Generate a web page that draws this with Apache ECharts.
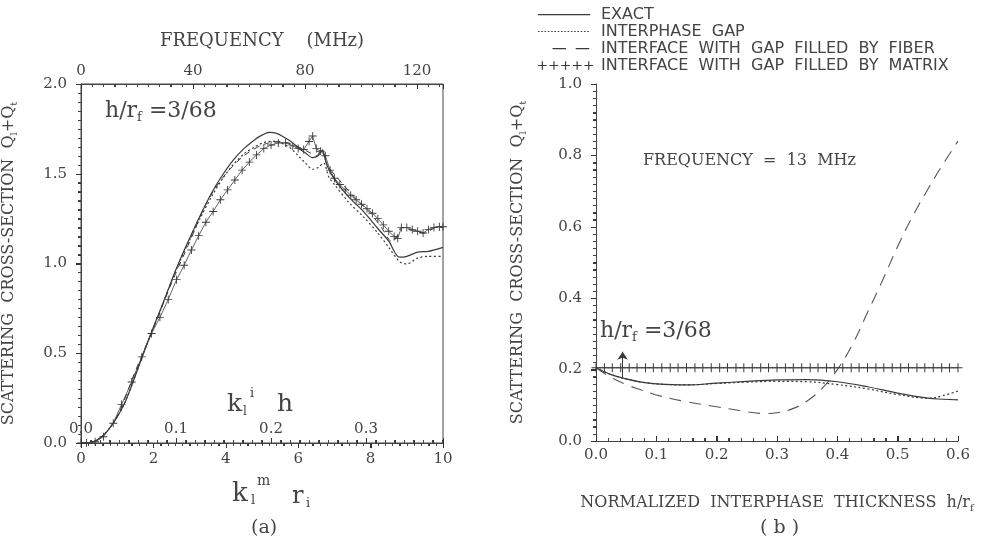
<!DOCTYPE html>
<html>
<head>
<meta charset="utf-8">
<script src="https://cdn.jsdelivr.net/npm/echarts@6/dist/echarts.min.js"></script>
<style>
  html, body { margin: 0; padding: 0; background: #fff; }
  #main { width: 991px; height: 548px; }
</style>
</head>
<body>
<div id="main"></div>
<script>
// ---- panel (a): cross-section vs k_l^m r_i ----
const kExactA = [0, 0.2, 0.4, 0.6, 0.8, 1.0, 1.2, 1.4, 1.6, 1.8, 2.0, 2.2, 2.4, 2.6, 2.8, 3.0, 3.3, 3.6, 3.9, 4.2, 4.5, 4.8, 5.0, 5.2, 5.4, 5.6, 5.8, 6.0, 6.2, 6.4, 6.55, 6.65, 6.8, 7.0, 7.4, 7.8, 8.2, 8.5, 8.8, 9.0, 9.3, 9.6, 10.0]
const exactA = [0, 0.001, 0.012, 0.04, 0.085, 0.145, 0.22, 0.32, 0.43, 0.54, 0.645, 0.745, 0.85, 0.955, 1.05, 1.14, 1.27, 1.39, 1.49, 1.575, 1.64, 1.69, 1.715, 1.73, 1.725, 1.705, 1.68, 1.645, 1.615, 1.59, 1.60, 1.63, 1.545, 1.47, 1.37, 1.29, 1.195, 1.125, 1.035, 1.04, 1.063, 1.068, 1.09]

const kGapA = [0, 0.2, 0.4, 0.6, 0.8, 1.0, 1.2, 1.4, 1.6, 1.8, 2.0, 2.2, 2.4, 2.6, 2.8, 3.0, 3.3, 3.6, 3.9, 4.2, 4.5, 4.8, 5.0, 5.2, 5.4, 5.6, 5.8, 6.0, 6.2, 6.4, 6.55, 6.7, 6.85, 7.0, 7.4, 7.8, 8.2, 8.5, 8.8, 9.0, 9.3, 9.6, 10.0]
const gapA = [0, 0.001, 0.012, 0.04, 0.085, 0.145, 0.22, 0.32, 0.43, 0.54, 0.645, 0.745, 0.85, 0.95, 1.045, 1.13, 1.255, 1.37, 1.47, 1.55, 1.61, 1.65, 1.67, 1.68, 1.68, 1.665, 1.64, 1.60, 1.56, 1.525, 1.535, 1.56, 1.48, 1.44, 1.34, 1.26, 1.17, 1.09, 1.01, 0.998, 1.03, 1.04, 1.04]

const kFiberA = [0, 0.5, 1.0, 1.5, 2.0, 2.5, 3.0, 3.5, 4.0, 4.5, 5.0, 5.5, 6.0, 6.3, 6.5, 6.65, 6.8, 7.2, 7.6, 8.0, 8.3, 8.6, 8.75, 8.85, 9.2, 9.5, 9.8, 10.0]
const fiberA = [0, 0.02, 0.15, 0.4, 0.64, 0.89, 1.12, 1.35, 1.5, 1.6, 1.66, 1.68, 1.65, 1.62, 1.6, 1.64, 1.55, 1.45, 1.36, 1.28, 1.2, 1.12, 1.16, 1.2, 1.18, 1.17, 1.2, 1.2]

const kMatrixA = [0, 0.15, 0.39, 0.62, 0.89, 1.12, 1.4, 1.68, 1.95, 2.18, 2.41, 2.64, 2.85, 3.05, 3.25, 3.45, 3.65, 3.85, 4.05, 4.25, 4.45, 4.65, 4.85, 5.05, 5.25, 5.45, 5.65, 5.85, 6.0, 6.15, 6.3, 6.4, 6.5, 6.62, 6.75, 6.88, 7.0, 7.15, 7.3, 7.45, 7.6, 7.75, 7.9, 8.05, 8.2, 8.35, 8.5, 8.65, 8.75, 8.85, 9.0, 9.15, 9.3, 9.45, 9.6, 9.75, 9.9, 10.0]
const matrixA = [0, 0, 0.007, 0.035, 0.11, 0.215, 0.34, 0.48, 0.61, 0.7, 0.8, 0.91, 0.99, 1.075, 1.155, 1.23, 1.29, 1.355, 1.41, 1.465, 1.52, 1.565, 1.605, 1.64, 1.66, 1.672, 1.672, 1.655, 1.64, 1.635, 1.68, 1.71, 1.64, 1.625, 1.6, 1.52, 1.475, 1.44, 1.41, 1.38, 1.355, 1.33, 1.305, 1.28, 1.25, 1.215, 1.18, 1.15, 1.14, 1.2, 1.2, 1.19, 1.18, 1.17, 1.19, 1.2, 1.205, 1.205]

// axis ranges of panel (a): frequency and k_l^i h at k_l^m r_i = 10
const kMaxA = 10
const freqMaxA = 129.3
const khMaxA = 0.381

// ---- panel (b): cross-section vs h/r_f at 13 MHz ----
const hB = [0, 0.025, 0.05, 0.075, 0.1, 0.15, 0.2, 0.25, 0.3, 0.35, 0.4, 0.45, 0.5, 0.55, 0.575, 0.6]
const exactB = [0.205, 0.186, 0.174, 0.165, 0.16, 0.157, 0.162, 0.167, 0.171, 0.172, 0.166, 0.152, 0.134, 0.12, 0.117, 0.115]
const gapB = [0.205, 0.186, 0.174, 0.165, 0.16, 0.157, 0.161, 0.165, 0.167, 0.166, 0.158, 0.146, 0.13, 0.12, 0.127, 0.14]

const hFiberB = [0, 0.025, 0.05, 0.075, 0.1, 0.15, 0.2, 0.25, 0.28, 0.3, 0.325, 0.35, 0.375, 0.4, 0.425, 0.45, 0.475, 0.5, 0.525, 0.55, 0.575, 0.6]
const fiberB = [0.205, 0.178, 0.158, 0.143, 0.129, 0.11, 0.096, 0.082, 0.077, 0.079, 0.09, 0.112, 0.148, 0.2, 0.27, 0.36, 0.45, 0.545, 0.63, 0.705, 0.775, 0.84]

const hMatrixB = [0, 0.014, 0.027, 0.041, 0.055, 0.068, 0.082, 0.095, 0.109, 0.123, 0.136, 0.150, 0.164, 0.177, 0.191, 0.205, 0.218, 0.232, 0.245, 0.259, 0.273, 0.286, 0.300, 0.314, 0.327, 0.341, 0.355, 0.368, 0.382, 0.395, 0.409, 0.423, 0.436, 0.450, 0.464, 0.477, 0.491, 0.505, 0.518, 0.532, 0.545, 0.559, 0.573, 0.586, 0.600]
const matrixB = [0.205, 0.205, 0.205, 0.205, 0.205, 0.205, 0.205, 0.205, 0.205, 0.205, 0.205, 0.205, 0.205, 0.205, 0.205, 0.205, 0.205, 0.205, 0.205, 0.205, 0.205, 0.205, 0.205, 0.205, 0.205, 0.205, 0.205, 0.205, 0.205, 0.205, 0.205, 0.205, 0.205, 0.205, 0.205, 0.205, 0.205, 0.205, 0.205, 0.205, 0.205, 0.205, 0.205, 0.205, 0.205]

// arrow marking h/r_f = 3/68
const arrowH = 3 / 68
const arrowFrom = 0.176
const arrowTo = 0.25

const names = ['EXACT', 'INTERPHASE  GAP', 'INTERFACE  WITH  GAP  FILLED  BY  FIBER', 'INTERFACE  WITH  GAP  FILLED  BY  MATRIX']

const ink = '#3a3a3a'
const txt = '#444'
const serif = 'DejaVu Serif'

function pairs(xs, ys) {
  return xs.map((x, i) => [x, ys[i]])
}

// legend icons, drawn in a 60x10 box (tiny corner squares pin the box size)
const box = 'M0,0h0.01v0.01h-0.01z M60,9.99h0.01v0.01h-0.01z '
function dots() {
  let p = box
  for (let x = 0; x < 54; x += 3.4) p += 'M' + x + ',4.4h1.6v1.2h-1.6z '
  return 'path://' + p
}
function crosses() {
  let p = box
  for (let c of [4.5, 16.5, 28.5, 40.5, 52.5]) {
    p += 'M' + (c - 0.6) + ',0.5h1.2v9h-1.2z M' + (c - 4.5) + ',4.4h9v1.2h-9z '
  }
  return 'path://' + p
}
const plusSymbol = 'path://M4,0h1v9h-1z M0,4h9v1h-9z'

const chart = echarts.init(document.getElementById('main'))

// fresh style objects for every axis
function label(extra) {
  return Object.assign({ color: txt, fontFamily: serif, fontSize: 15 }, extra)
}
function line() {
  return { show: true, lineStyle: { color: '#444', width: 1 } }
}
function ticks(inside, len) {
  return { show: true, inside: inside, length: len, lineStyle: { color: '#333', width: 1 } }
}
function minor(n) {
  return { show: true, splitNumber: n, length: 3, lineStyle: { color: '#444', width: 1 } }
}
function subRich() {
  return {
    t: { fontFamily: serif, fontSize: 16, color: txt },
    s: { fontSize: 10, fontFamily: serif, color: txt, padding: [10, 0, 0, 0] }
  }
}

const texts = [
  // h/r_f = 3/68 labels
  { type: 'text', left: 105, top: 100, style: { text: '{a|h/r}{s|f}{a| =3/68}', rich: { a: { fontFamily: serif, fontSize: 22, fill: txt }, s: { fontFamily: serif, fontSize: 13, fill: txt, padding: [14, 0, 0, 0] } } } },
  { type: 'text', left: 600, top: 320, style: { text: '{a|h/r}{s|f}{a| =3/68}', rich: { a: { fontFamily: serif, fontSize: 22, fill: txt }, s: { fontFamily: serif, fontSize: 13, fill: txt, padding: [14, 0, 0, 0] } } } },
  { type: 'text', left: 643, top: 153, style: { text: 'FREQUENCY  =  13  MHz', fontFamily: serif, fontSize: 16, fill: txt } },
  // k_l^i h (inner axis of panel a)
  { type: 'text', left: 227, top: 392, style: { text: 'k', fontFamily: serif, fontSize: 25, fill: txt } },
  { type: 'text', left: 243, top: 406, style: { text: 'l', fontFamily: serif, fontSize: 12, fill: txt } },
  { type: 'text', left: 250, top: 387, style: { text: 'i', fontFamily: serif, fontSize: 13, fill: txt } },
  { type: 'text', left: 277, top: 392, style: { text: 'h', fontFamily: serif, fontSize: 25, fill: txt } },
  // k_l^m r_i (bottom axis of panel a)
  { type: 'text', left: 232, top: 481, style: { text: 'k', fontFamily: serif, fontSize: 26, fill: txt } },
  { type: 'text', left: 251, top: 494, style: { text: 'l', fontFamily: serif, fontSize: 13, fill: txt } },
  { type: 'text', left: 257, top: 474, style: { text: 'm', fontFamily: serif, fontSize: 14, fill: txt } },
  { type: 'text', left: 292, top: 485, style: { text: 'r', fontFamily: serif, fontSize: 24, fill: txt } },
  { type: 'text', left: 306, top: 497, style: { text: 'i', fontFamily: serif, fontSize: 13, fill: txt } },
  // panel captions
  { type: 'text', left: 251, top: 519, style: { text: '(a)', fontFamily: serif, fontSize: 19, fill: txt } },
  { type: 'text', left: 760, top: 519, style: { text: '( b )', fontFamily: serif, fontSize: 19, fill: txt } }
]

chart.setOption({
  animation: false,
  legend: {
    orient: 'vertical',
    left: 533,
    top: 1,
    itemWidth: 58,
    itemHeight: 10,
    itemGap: 0,
    selectedMode: false,
    textStyle: { fontFamily: 'DejaVu Sans', fontSize: 16, color: txt, lineHeight: 17 },
    data: [
      { name: names[0], icon: 'path://' + box + 'M0,4.4h54v1.3h-54z' },
      { name: names[1], icon: dots() },
      { name: names[2], icon: 'path://' + box + 'M15,4.4h14v1.3h-14z M39,4.4h14v1.3h-14z' },
      { name: names[3], icon: crosses() }
    ]
  },
  grid: [
    { left: 81, top: 84, width: 362, height: 359, show: true, borderColor: '#444', borderWidth: 1 },
    { left: 596, top: 84, width: 362, height: 357 }
  ],
  xAxis: [
    {
      gridIndex: 0, type: 'value', position: 'bottom', min: 0, max: kMaxA, interval: 2,
      axisLine: line(), splitLine: { show: false },
      axisTick: ticks(false, 5), minorTick: minor(10),
      axisLabel: label({ margin: 9 })
    },
    {
      gridIndex: 0, type: 'value', position: 'top', min: 0, max: freqMaxA, interval: 40,
      axisLine: line(), splitLine: { show: false },
      axisTick: ticks(true, 5), minorTick: minor(10),
      axisLabel: label({ margin: 5, formatter: v => (v % 40 === 0 ? String(v) : '') }),
      name: 'FREQUENCY    (MHz)', nameLocation: 'middle', nameGap: 34,
      nameTextStyle: { fontFamily: serif, fontSize: 18, color: txt }
    },
    {
      gridIndex: 0, type: 'value', position: 'bottom', min: 0, max: khMaxA, interval: 0.1,
      axisLine: { show: false }, splitLine: { show: false },
      axisTick: ticks(true, 5), minorTick: minor(10),
      axisLabel: label({ inside: true, margin: 6, formatter: v => (Math.abs(v * 10 - Math.round(v * 10)) < 1e-6 ? v.toFixed(1) : '') })
    },
    {
      gridIndex: 1, type: 'value', min: 0, max: 0.6, interval: 0.1,
      axisLine: line(), splitLine: { show: false },
      axisTick: ticks(true, 5), minorTick: minor(5),
      axisLabel: label({ margin: 7, formatter: v => v.toFixed(1) }),
      name: '{t|NORMALIZED  INTERPHASE  THICKNESS  h/r}{s|f}', nameLocation: 'middle', nameGap: 52,
      nameTextStyle: { rich: subRich() }
    }
  ],
  yAxis: [
    {
      gridIndex: 0, type: 'value', min: 0, max: 2, interval: 0.5,
      axisLine: line(), splitLine: { show: false },
      axisTick: ticks(false, 5), minorTick: minor(10),
      axisLabel: label({ margin: 14, formatter: v => v.toFixed(1) }),
      name: '{t|SCATTERING  CROSS-SECTION  Q}{s|l}{t|+Q}{s|t}', nameLocation: 'middle', nameGap: 62,
      nameTextStyle: { rich: subRich() }
    },
    {
      gridIndex: 1, type: 'value', min: 0, max: 1, interval: 0.2,
      axisLine: line(), splitLine: { show: false },
      axisTick: ticks(false, 5), minorTick: minor(10),
      axisLabel: label({ margin: 14, formatter: v => v.toFixed(1) }),
      name: '{t|SCATTERING  CROSS-SECTION  Q}{s|l}{t|+Q}{s|t}', nameLocation: 'middle', nameGap: 68,
      nameTextStyle: { rich: subRich() }
    }
  ],
  series: [
    { name: names[0], type: 'line', xAxisIndex: 0, yAxisIndex: 0, data: pairs(kExactA, exactA), smooth: 0.3, showSymbol: false, color: ink, lineStyle: { width: 1.2 } },
    { name: names[1], type: 'line', xAxisIndex: 0, yAxisIndex: 0, data: pairs(kGapA, gapA), smooth: 0.3, showSymbol: false, color: ink, lineStyle: { width: 1.2, type: [2, 2.5] } },
    { name: names[2], type: 'line', xAxisIndex: 0, yAxisIndex: 0, data: pairs(kFiberA, fiberA), smooth: 0.3, showSymbol: false, color: ink, lineStyle: { width: 1, type: [6, 5] } },
    { name: names[3], type: 'line', xAxisIndex: 0, yAxisIndex: 0, data: pairs(kMatrixA, matrixA), symbol: plusSymbol, symbolSize: 8, color: ink, lineStyle: { width: 0.8 } },

    { name: names[0], type: 'line', xAxisIndex: 3, yAxisIndex: 1, data: pairs(hB, exactB), smooth: 0.4, showSymbol: false, color: ink, lineStyle: { width: 1.2 } },
    { name: names[1], type: 'line', xAxisIndex: 3, yAxisIndex: 1, data: pairs(hB, gapB), smooth: 0.4, showSymbol: false, color: ink, lineStyle: { width: 1.2, type: [2, 2.5] } },
    { name: names[2], type: 'line', xAxisIndex: 3, yAxisIndex: 1, data: pairs(hFiberB, fiberB), smooth: 0.4, showSymbol: false, color: '#555', lineStyle: { width: 1.1, type: [12, 8] } },
    {
      name: names[3], type: 'line', xAxisIndex: 3, yAxisIndex: 1, data: pairs(hMatrixB, matrixB), symbol: plusSymbol, symbolSize: 9, color: ink, lineStyle: { width: 0.8 },
      markLine: {
        silent: true, symbol: ['none', 'arrow'], symbolSize: 8,
        label: { show: false }, lineStyle: { color: ink, width: 1, type: 'solid' },
        itemStyle: { color: ink },
        data: [[{ coord: [arrowH, arrowFrom] }, { coord: [arrowH, arrowTo] }]]
      }
    }
  ],
  graphic: texts
})

// the axis ticks do not show up in this build, so draw them as short graphic
// lines placed through the axes' own scales
function tickMarks() {
  const els = []
  const px = (finder, v) => chart.convertToPixel(finder, v)
  // along an x axis: baseline y, ticks going dir (+1 down, -1 up)
  function alongX(xi, yBase, max, step, every, dir) {
    const n = Math.floor(max / step + 1e-6)
    for (let i = 0; i <= n; i++) {
      const x = Math.round(px({ xAxisIndex: xi }, i * step)) + 0.5
      const len = i % every === 0 ? 5 : 3
      els.push({ type: 'line', silent: true, shape: { x1: x, y1: yBase, x2: x, y2: yBase + dir * len }, style: { stroke: '#333', lineWidth: 1 } })
    }
  }
  // along a y axis: baseline x, ticks going dir (-1 left, +1 right)
  function alongY(yi, xBase, max, step, every, dir) {
    const n = Math.floor(max / step + 1e-6)
    for (let i = 0; i <= n; i++) {
      const y = Math.round(px({ yAxisIndex: yi }, i * step)) + 0.5
      const len = i % every === 0 ? 5 : 3
      els.push({ type: 'line', silent: true, shape: { x1: xBase, y1: y, x2: xBase + dir * len, y2: y }, style: { stroke: '#333', lineWidth: 1 } })
    }
  }
  const bottomA = px({ yAxisIndex: 0 }, 0)
  const topA = px({ yAxisIndex: 0 }, 2)
  const leftA = px({ xAxisIndex: 0 }, 0)
  const bottomB = px({ yAxisIndex: 1 }, 0)
  const leftB = px({ xAxisIndex: 3 }, 0)
  alongX(0, bottomA, kMaxA, 0.2, 10, 1)
  alongX(2, bottomA, khMaxA, 0.01, 10, -1)
  alongX(1, topA, freqMaxA, 4, 10, 1)
  alongY(0, leftA, 2, 0.05, 10, -1)
  alongX(3, bottomB, 0.6, 0.02, 5, -1)
  alongY(1, leftB, 1, 0.02, 10, -1)
  return els
}

chart.setOption({ graphic: texts.concat(tickMarks()) })
</script>
</body>
</html>
